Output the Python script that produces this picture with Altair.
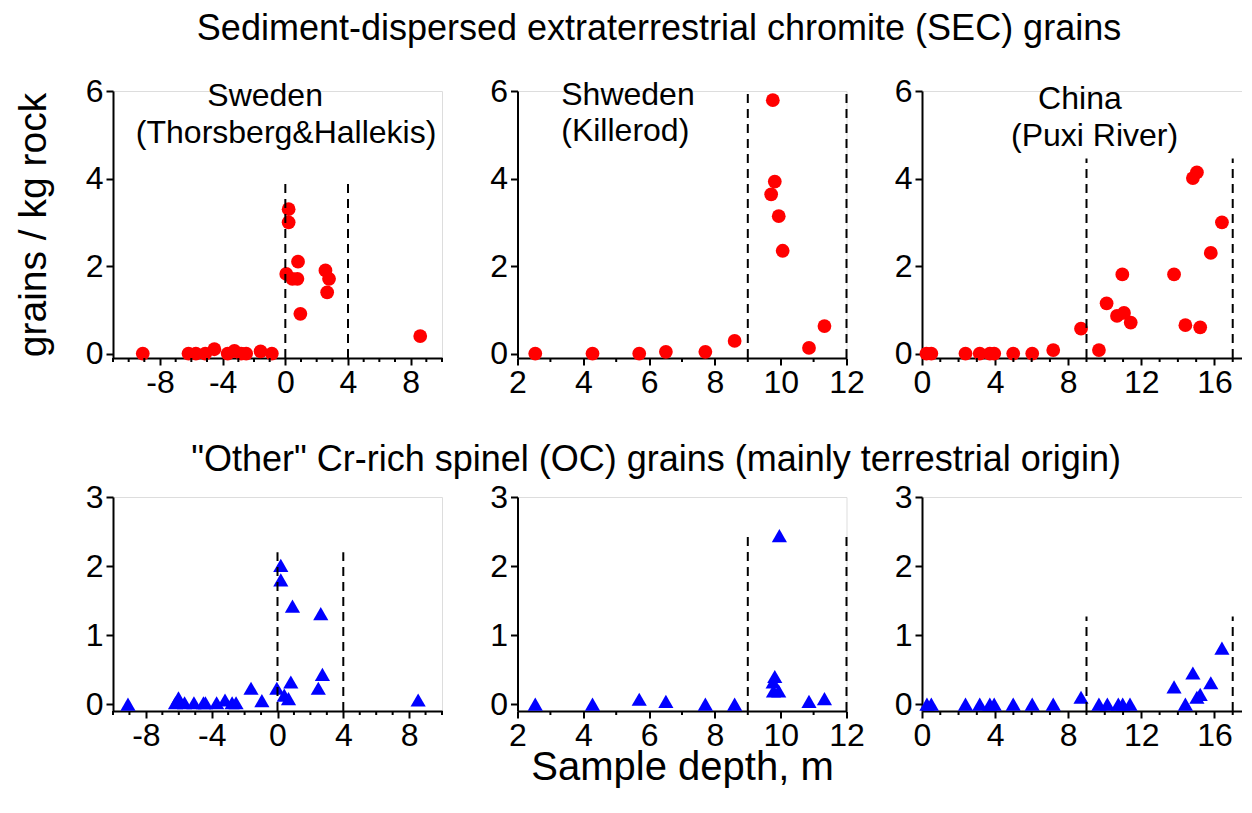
import altair as alt
import pandas as pd

FONT = "Liberation Sans"

# ---------------- data ----------------
# SEC grains (red circles)
sec_swe_depth = [-9.1, -6.18, -5.71, -5.11, -4.53, -3.68, -3.25, -2.82, -2.5, -1.58, -0.86,
                 0.21, 0.21, 0.81, 0.06, 0.45, 0.77, 0.96, 2.56, 2.79, 2.67, 8.61]
sec_swe_grains = [0, 0, 0, 0, 0.1, 0, 0.06, 0, 0, 0.05, 0,
                  3.3, 3.0, 2.1, 1.82, 1.71, 1.71, 0.91, 1.9, 1.71, 1.4, 0.4]

sec_kil_depth = [2.54, 4.28, 5.70, 6.51, 7.71, 8.60, 9.76, 9.82, 9.71, 9.94, 10.06, 10.86, 11.33]
sec_kil_grains = [0, 0, 0, 0.04, 0.04, 0.29, 5.79, 3.93, 3.64, 3.14, 2.35, 0.13, 0.63]

sec_chn_depth = [0.24, 0.51, 2.38, 3.16, 3.71, 3.95, 4.99, 6.03, 7.18, 8.70, 9.68, 10.10,
                 10.96, 10.67, 11.05, 11.42, 13.79, 14.41, 14.82, 15.04, 15.22, 15.80, 16.41]
sec_chn_grains = [0, 0, 0, 0, 0, 0, 0, 0, 0.08, 0.57, 0.08, 1.15,
                  1.81, 0.86, 0.93, 0.71, 1.81, 0.65, 4.01, 4.14, 0.6, 2.3, 3.0]

# OC grains (blue triangles)
oc_swe_depth = [-9.09, -6.2, -6.02, -5.65, -5.08, -4.5, -4.38, -3.7, -3.19, -2.76, -2.52,
                -1.61, -0.95, -0.04, 0.2, 0.2, 0.91, 0.41, 0.67, 0.81, 2.63, 2.73, 2.48, 8.55]
oc_swe_grains = [0, 0.02, 0.09, 0.02, 0.02, 0.02, 0.02, 0.02, 0.06, 0.02, 0.02,
                 0.23, 0.05, 0.23, 2.01, 1.8, 1.42, 0.13, 0.08, 0.32, 1.31, 0.43, 0.23, 0.06]

oc_kil_depth = [2.54, 4.28, 5.70, 6.51, 7.71, 8.60, 9.96, 9.82, 9.77, 9.78, 9.94, 10.86, 11.33]
oc_kil_grains = [0, 0, 0.07, 0.04, 0, 0, 2.44, 0.40, 0.32, 0.19, 0.19, 0.04, 0.08]

oc_chn_depth = [0.27, 0.51, 2.38, 3.16, 3.71, 3.95, 4.99, 6.03, 7.18, 8.70, 9.68, 10.14,
                10.74, 10.98, 11.38, 13.79, 14.41, 14.82, 15.04, 15.22, 15.80, 16.41]
oc_chn_grains = [0, 0, 0, 0, 0, 0, 0, 0, 0, 0.1, 0, 0,
                 0, 0, 0, 0.25, 0, 0.45, 0.1, 0.14, 0.31, 0.81]

# event-interval boundaries (dashed lines)
bounds_swe = [0, 4]
bounds_kil = [9, 12]
bounds_chn = [9, 17]

ROW1_TITLE = "Sediment-dispersed extraterrestrial chromite (SEC) grains"
ROW2_TITLE = '"Other" Cr-rich spinel (OC) grains (mainly terrestrial origin)'

W = 329
H_TOP = 267
H_BOT = 214


def panel(xs, ys, kind, xdom, xmajor, ydom, yvals, h, bnds, btop, notes,
          ytitle=None, xtitle=None, rowtitle=None):
    df = pd.DataFrame({"depth": xs, "grains": ys})

    majors = [v for v in range(xdom[0], xdom[1] + 1) if v % xmajor == 0]
    minors = [v for v in range(xdom[0], xdom[1] + 1) if v % xmajor != 0]

    xaxis = dict(
        values=majors, format="d",
        labelExpr="datum.value < 0 ? '-' + abs(datum.value) : '' + datum.value",
        tickSize=7, labelFlush=False, labelOverlap=False, grid=False,
        domainColor="black", domainWidth=2, tickColor="black", tickWidth=2,
        labelFont=FONT, labelFontSize=32, labelColor="black", labelPadding=2,
    )
    if xtitle:
        xaxis.update(title=xtitle, titleFont=FONT, titleFontSize=40, titleFontWeight="normal",
                     titleColor="black", titleBaseline="alphabetic", titleY=68)
    else:
        xaxis.update(title=None)

    yaxis = dict(
        values=yvals, format="d", grid=False, tickSize=7,
        domainColor="black", domainWidth=2, tickColor="black", tickWidth=2,
        labelFont=FONT, labelFontSize=32, labelColor="black", labelPadding=3,
    )
    if ytitle:
        yaxis.update(title=ytitle, titleFont=FONT, titleFontSize=39, titleFontWeight="normal",
                     titleColor="black", titleAngle=270, titleBaseline="middle",
                     titleAlign="center", titleX=-80, titleY=h / 2)
    else:
        yaxis.update(title=None)

    xenc = alt.X("depth:Q", scale=alt.Scale(domain=xdom, nice=False, zero=False),
                 axis=alt.Axis(**xaxis))
    yenc = alt.Y("grains:Q", scale=alt.Scale(domain=ydom, nice=False, zero=False),
                 axis=alt.Axis(**yaxis))

    base = alt.Chart(df)
    if kind == "circle":
        pts = base.mark_point(shape="circle", filled=True, size=190, color="#ff0000",
                              opacity=1).encode(x=xenc, y=yenc)
    else:
        pts = base.mark_point(shape="triangle-up", filled=True, size=230, color="#0000ff",
                              opacity=1).encode(x=xenc, y=yenc)

    # minor ticks on the x axis
    mdf = pd.DataFrame({"depth": minors})
    minor_ticks = alt.Chart(mdf).mark_rule(color="black", strokeWidth=2).encode(
        x="depth:Q", y=alt.value(h), y2=alt.value(h + 4))

    rdf = pd.DataFrame({"depth": bnds})
    rules = alt.Chart(rdf).mark_rule(color="black", strokeWidth=2, strokeDash=[9, 6]).encode(
        x="depth:Q", y=alt.datum(ydom[0]), y2=alt.datum(btop))

    layers = [pts, minor_ticks, rules]
    for (txt, nx, ny, al) in notes:
        ndf = pd.DataFrame({"depth": [nx], "grains": [ny], "t": [txt]})
        layers.append(alt.Chart(ndf).mark_text(font=FONT, fontSize=32, color="black", align=al,
                                               baseline="alphabetic").encode(
            x="depth:Q", y="grains:Q", text="t:N"))
    if rowtitle:
        txt, dx, dy = rowtitle
        tdf = pd.DataFrame({"t": [txt]})
        layers.append(alt.Chart(tdf).mark_text(font=FONT, fontSize=36, color="black",
                                               align="center", baseline="alphabetic").encode(
            x=alt.value(W / 2 + dx), y=alt.value(dy), text="t:N"))

    return alt.layer(*layers).properties(width=W, height=h)


p1 = panel(sec_swe_depth, sec_swe_grains, "circle", [-11, 10], 4, [-0.1, 6], [0, 2, 4, 6], H_TOP,
           bounds_swe, 4.0,
           [("Sweden", -1.29, 5.66, "center"), ("(Thorsberg&Hallekis)", 0.05, 4.82, "center")],
           ytitle="grains / kg rock")
p2 = panel(sec_kil_depth, sec_kil_grains, "circle", [2, 12], 2, [-0.1, 6], [0, 2, 4, 6], H_TOP,
           bounds_kil, 5.95,
           [("Shweden", 3.33, 5.69, "left"), ("(Killerod)", 3.33, 4.86, "left")],
           rowtitle=(ROW1_TITLE, -23, -51))
p3 = panel(sec_chn_depth, sec_chn_grains, "circle", [0, 18], 4, [-0.1, 6], [0, 2, 4, 6], H_TOP,
           bounds_chn, 4.46,
           [("China", 8.64, 5.6, "center"), ("(Puxi River)", 9.44, 4.75, "center")])
p4 = panel(oc_swe_depth, oc_swe_grains, "triangle", [-10, 10], 4, [-0.1, 3], [0, 1, 2, 3], H_BOT,
           bounds_swe, 2.2, [])
p5 = panel(oc_kil_depth, oc_kil_grains, "triangle", [2, 12], 2, [-0.1, 3], [0, 1, 2, 3], H_BOT,
           bounds_kil, 2.5, [], xtitle="Sample depth, m",
           rowtitle=(ROW2_TITLE, -26, -26))
p6 = panel(oc_chn_depth, oc_chn_grains, "triangle", [0, 18], 4, [-0.1, 3], [0, 1, 2, 3], H_BOT,
           bounds_chn, 1.27, [])

chart = alt.concat(p1, p2, p3, p4, p5, p6, columns=3,
                   spacing={"row": 139, "column": 75.5}, bounds="flush").properties(
    padding={"left": 5, "top": 2, "right": -11, "bottom": 5}
).configure_view(stroke=None).configure(font=FONT, background="white")

chart.save("out.html", embed_options={"renderer": "svg", "actions": False})
